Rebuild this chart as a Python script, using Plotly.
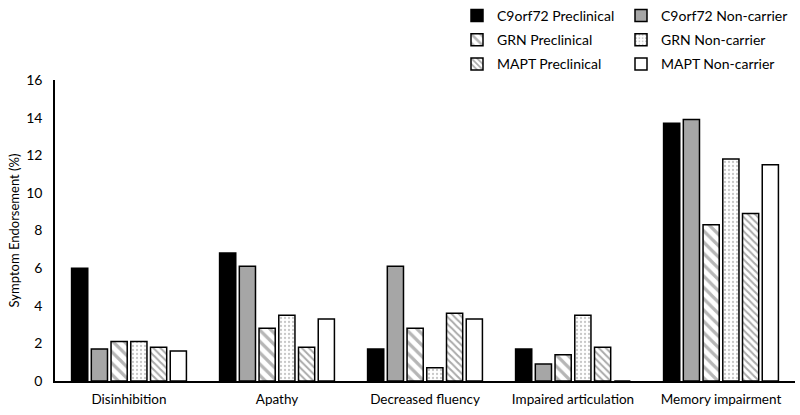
import plotly.graph_objects as go

categories = ["Disinhibition", "Apathy", "Decreased fluency", "Impaired articulation", "Memory impairment"]
series_names = ["C9orf72 Preclinical", "C9orf72 Non-carrier", "GRN Preclinical",
                "GRN Non-carrier", "MAPT Preclinical", "MAPT Non-carrier"]
c9_pre = [6.0, 6.8, 1.7, 1.7, 13.7]
c9_nc = [1.7, 6.1, 6.1, 0.9, 13.9]
grn_pre = [2.1, 2.8, 2.8, 1.4, 8.3]
grn_nc = [2.1, 3.5, 0.7, 3.5, 11.8]
mapt_pre = [1.8, 1.8, 3.6, 1.8, 8.9]
mapt_nc = [1.6, 3.3, 3.3, 0.0, 11.5]
y_ticks = [0, 2, 4, 6, 8, 10, 12, 14, 16]

values = [c9_pre, c9_nc, grn_pre, grn_nc, mapt_pre, mapt_nc]
styles = [
    dict(color="black", pattern=dict(shape="")),
    dict(color="#a6a6a6", pattern=dict(shape="")),
    dict(color="white", pattern=dict(shape="\\", fgcolor="#6e6e6e", bgcolor="white", size=8, solidity=0.4)),
    dict(color="white", pattern=dict(shape=".", fgcolor="#909090", bgcolor="white", size=4, solidity=0.25)),
    dict(color="white", pattern=dict(shape="\\", fgcolor="#555555", bgcolor="white", size=5, solidity=0.4)),
    dict(color="white", pattern=dict(shape="")),
]
legend_ids = ["legend", "legend2", "legend", "legend2", "legend", "legend2"]

fig = go.Figure()
for i, (name, vals, st) in enumerate(zip(series_names, values, styles)):
    fig.add_trace(go.Bar(
        x=categories, y=vals, name=name,
        legend=legend_ids[i], legendgroup="g%d" % i,
        marker=dict(color=st["color"], pattern=st["pattern"],
                    line=dict(color="black", width=1.5)),
    ))

legend_common = dict(orientation="v", xref="container", yref="container",
                     yanchor="top", y=1.028, xanchor="left",
                     font=dict(size=14), tracegroupgap=3, itemwidth=30,
                     bgcolor="rgba(0,0,0,0)")

fig.update_layout(
    width=800, height=415,
    margin=dict(l=55, r=5, t=80, b=34, autoexpand=False),
    paper_bgcolor="white", plot_bgcolor="white",
    font=dict(family="Lato, Open Sans, sans-serif", size=13, color="black"),
    barmode="group", bargap=0.2, bargroupgap=0.18,
    showlegend=True,
    legend=dict(x=0.57125, **legend_common),
    legend2=dict(x=0.77625, **legend_common),
    xaxis=dict(showline=True, linecolor="black", linewidth=1.5, ticks="",
               tickfont=dict(size=13.5), automargin=False, ticklabelstandoff=5),
    yaxis=dict(range=[0, 16], tickvals=y_ticks, showline=True, linecolor="black",
               linewidth=1.5, showgrid=False, ticks="", zeroline=False,
               tickfont=dict(size=14), automargin=False, ticklabelstandoff=8,
               title=dict(text="Symptom Endorsement (%)", font=dict(size=13), standoff=4)),
)

fig.write_html("out.html", config={"displayModeBar": False},
               post_script="document.body.style.margin='0px';")
